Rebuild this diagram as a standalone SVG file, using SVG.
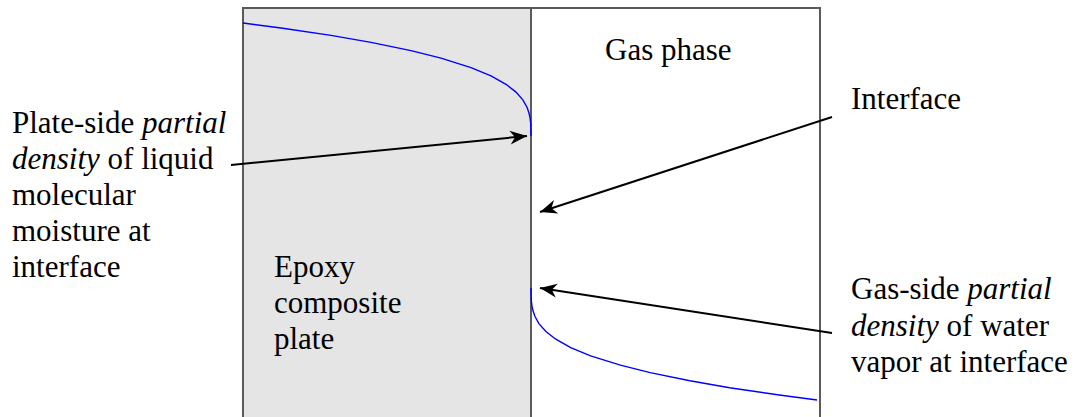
<svg xmlns="http://www.w3.org/2000/svg" width="1081" height="417" viewBox="0 0 1081 417">
<style>
text{font-family:"Liberation Serif","Times New Roman",serif;font-size:31px;fill:#000}
.it{font-style:italic}
.frame{stroke:#5a5a5a;stroke-width:2;fill:none}
.curve{stroke:#0000ff;stroke-width:1.4;fill:none}
.arrow{stroke:#000;stroke-width:2;fill:none;marker-end:url(#ah)}
</style>
<defs>
<marker id="ah" markerUnits="userSpaceOnUse" markerWidth="20" markerHeight="16" viewBox="-18 -8 20 16" refX="0" refY="0" orient="auto">
<path d="M0,0 L-17,-7 L-12,0 L-17,7 Z" fill="#000"/>
</marker>
</defs>
<g id="plate">
<rect x="243" y="8" width="288" height="420" fill="#e5e5e5"/>
</g>
<g id="frame">
<path class="frame" d="M243,418 V8 H820 V418 M531,8 V418"/>
</g>
<g id="curves">
<polyline class="curve" points="243,23 281,28 331,35.4 371,42.4 411,50.6 441,58.1 471,67.6 491,75.9 506,84.3 516,92.1 523,100.1 527,107.2 529,113 530,117.5 530.7,123.5 531,136"/>
<polyline class="curve" points="531,288 531.3,300.4 532,306.3 533,310.8 535,316.5 538.9,323.6 545.9,331.5 555.8,339.2 570.7,347.6 590.6,355.8 620.4,365.2 650.2,372.6 689.9,380.8 729.6,387.7 779.3,395 817,400"/>
</g>
<g id="connectors">
<line class="arrow" x1="231" y1="165" x2="527" y2="136"/>
<line class="arrow" x1="832" y1="117" x2="540" y2="212"/>
<line class="arrow" x1="832" y1="333" x2="540" y2="288"/>
</g>
<g id="label-plate-side">
<text x="12" y="133">Plate-side <tspan class="it">partial</tspan></text>
<text x="12" y="169"><tspan class="it">density</tspan> of liquid</text>
<text x="12" y="205">molecular</text>
<text x="12" y="241">moisture at</text>
<text x="12" y="277">interface</text>
</g>
<g id="label-gas-phase">
<text x="605" y="60">Gas phase</text>
</g>
<g id="label-interface">
<text x="851" y="109">Interface</text>
</g>
<g id="label-epoxy">
<text x="274" y="277">Epoxy</text>
<text x="274" y="313">composite</text>
<text x="274" y="349">plate</text>
</g>
<g id="label-gas-side">
<text x="851" y="299">Gas-side <tspan class="it">partial</tspan></text>
<text x="851" y="336"><tspan class="it">density</tspan> of water</text>
<text x="851" y="372">vapor at interface</text>
</g>
</svg>
